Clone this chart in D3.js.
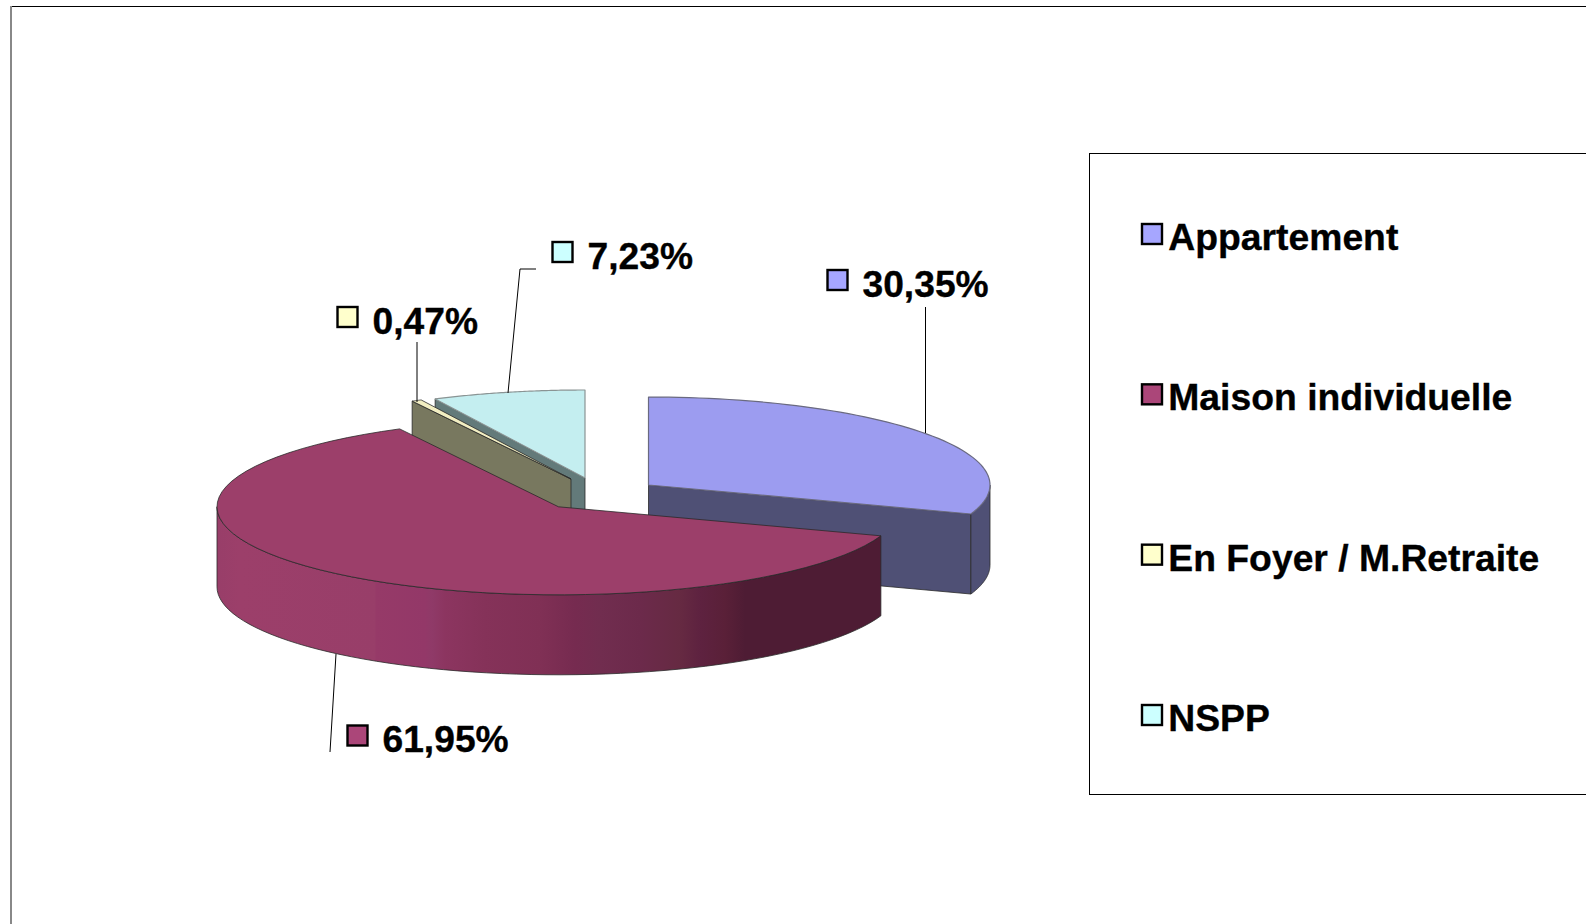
<!DOCTYPE html>
<html><head><meta charset="utf-8">
<script src="https://cdn.jsdelivr.net/npm/d3@7"></script>
<style>html,body{margin:0;padding:0;background:#fff;overflow:hidden}svg{display:block}
text{font-family:"Liberation Sans",Arial,sans-serif;font-weight:bold;fill:#000;stroke:#000;stroke-width:0.35px}</style>
</head><body><svg id="c" width="1586" height="924"></svg>
<script>
const categories=["Appartement","Maison individuelle","En Foyer / M.Retraite","NSPP"];
const values=[30.35,61.95,0.47,7.23];
const labels=["30,35%","61,95%","0,47%","7,23%"];
const legendColors=["#a6a6ff","#ab4679","#ffffcc","#ccffff"];
const topColors=["#9c9cf0","#9c3f6a","#f2eec2","#c4eef0"];
const sideColors=["#4f5075","#4e1c34","#78785f","#637a7a"];
const centers=[[648.5,485],[558.5,506.8],[571,479],[585,478]];
const labelPos=[[827.5,270],[347.5,725.5],[337.5,307],[552.5,242]];
const leaders=[[[925.5,433],[925.5,307]],[[336,654],[330,752]],[[417,402],[417,342]],[[508,393],[520,269],[536,269]]];
const wallShade=[[217,"#983e69"],[240,"#9c3f6a"],[375,"#983e69"],[376,"#963a68"],[425,"#933868"],[432,"#8f3a68"],[445,"#8c3560"],[485,"#853259"],[540,"#803055"],[575,"#762b50"],[600,"#712d4f"],[640,"#6c2a4b"],[680,"#662a42"],[700,"#5e2240"],[725,"#5a2038"],[745,"#4e1c34"],[881,"#4e1c34"]];
const rx=341.5,ry=88,depth=80;

const svg=d3.select("#c");
const pieData=d3.pie().sort(null).value(d=>d)(values);
const ex=(c,a)=>[c[0]+rx*Math.sin(a),c[1]-ry*Math.cos(a)];
const arcPts=(c,a0,a1,dy=0)=>d3.range(0,65).map(i=>{const a=a0+(a1-a0)*i/64,p=ex(c,a);return [p[0],p[1]+dy]});
const line=d3.line();
const EDGE="#2a2a2a";

svg.append("path").attr("d",line([[10,6.5],[1586,6.5]])).attr("stroke","#000").attr("stroke-width",1).attr("fill","none");
svg.append("path").attr("d",line([[11,6],[11,924]])).attr("stroke","#888").attr("stroke-width",2).attr("fill","none");

const defs=svg.append("defs");
const grad=defs.append("linearGradient").attr("id","wall").attr("gradientUnits","userSpaceOnUse").attr("x1",217).attr("x2",881).attr("y1",0).attr("y2",0);
const xs=d3.scaleLinear().domain([217,881]).range([0,1]);
wallShade.forEach(d=>grad.append("stop").attr("offset",xs(d[0])).attr("stop-color",d[1]));

function face(pts,fill,stroke){svg.append("path").attr("d",line(pts)+"Z").attr("fill",fill).attr("stroke",stroke||EDGE).attr("stroke-width",stroke?1.2:0.8).attr("stroke-linejoin","round");}

function radial(i,a){const c=centers[i],p=ex(c,a);
  face([c,p,[p[0],p[1]+depth],[c[0],c[1]+depth]],sideColors[i]);}
function wall(i,a0,a1,fill){const c=centers[i];
  face(arcPts(c,a0,a1).concat(arcPts(c,a1,a0,depth)),fill);}
function topFace(i,stroke){const d=pieData[i],c=centers[i];
  face([c].concat(arcPts(c,d.startAngle,d.endAngle)),topColors[i],stroke);}

// back to front
radial(3,pieData[3].startAngle); topFace(3,"#8a9494");
radial(2,pieData[2].startAngle); topFace(2);
radial(0,pieData[0].endAngle);
wall(0,Math.PI/2,pieData[0].endAngle,sideColors[0]);
topFace(0,"#6a6a80");
wall(1,pieData[1].startAngle,3*Math.PI/2,"url(#wall)");
topFace(1);

svg.selectAll("path.lead").data(leaders).join("path").attr("class","lead").attr("d",d=>line(d)).attr("fill","none").attr("stroke","#000").attr("stroke-width",1);

// data labels
labels.forEach((t,i)=>{const p=labelPos[i];
  svg.append("rect").attr("x",p[0]).attr("y",p[1]).attr("width",20).attr("height",20).attr("fill",legendColors[i]).attr("stroke","#000").attr("stroke-width",2.4);
  svg.append("text").attr("x",p[0]+35).attr("y",p[1]+26.5).attr("font-size",37.2).text(t);
});

// legend
svg.append("rect").attr("x",1089.5).attr("y",153.5).attr("width",600).attr("height",641).attr("fill","#fff").attr("stroke","#000").attr("stroke-width",1);
const ly=d3.scalePoint().domain(categories).range([224,705]);
categories.forEach((t,i)=>{
  svg.append("rect").attr("x",1142).attr("y",ly(t)).attr("width",20).attr("height",20).attr("fill",legendColors[i]).attr("stroke","#000").attr("stroke-width",2.4);
  svg.append("text").attr("x",1168.3).attr("y",ly(t)+26).attr("font-size",37.3).text(t);
});
</script></body></html>
